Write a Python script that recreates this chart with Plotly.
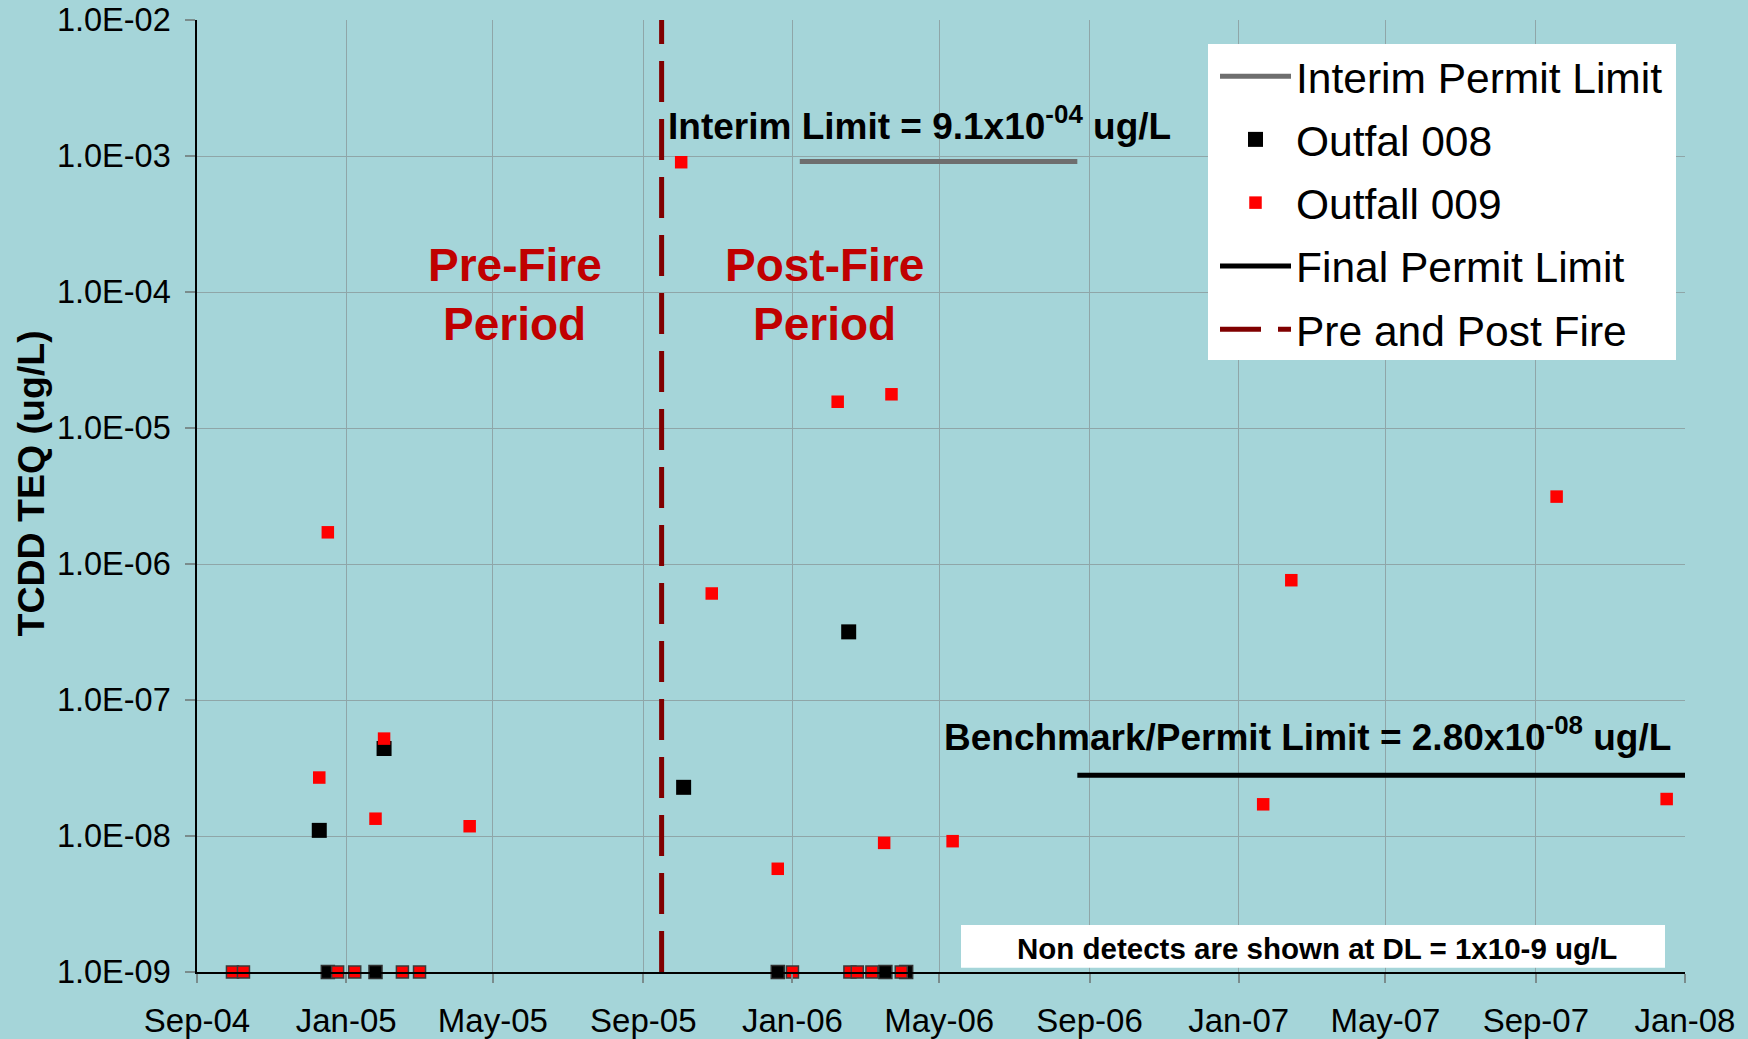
import plotly.graph_objects as go

# ---------------- data ----------------
y_tick_vals = [1e-9, 1e-8, 1e-7, 1e-6, 1e-5, 1e-4, 1e-3, 1e-2]
y_tick_text = ["1.0E-09", "1.0E-08", "1.0E-07", "1.0E-06",
               "1.0E-05", "1.0E-04", "1.0E-03", "1.0E-02"]

# Outfal 008 - detected results
o008_dates = ["2004-12-10", "2005-02-01", "2005-10-04", "2006-02-16"]
o008_vals = [1.10e-8, 4.4e-8, 2.28e-8, 3.17e-7]
# Outfal 008 - non detects (plotted at DL)
o008_nd_dates = ["2004-12-17", "2005-01-25", "2005-12-20", "2006-03-18", "2006-04-04"]
o008_nd_vals = [1e-9, 1e-9, 1e-9, 1e-9, 1e-9]

# Outfall 009 - detected results
o009_dates = ["2004-12-17", "2004-12-10", "2005-02-01", "2005-01-25", "2005-04-12",
              "2005-10-02", "2005-10-27", "2005-12-20", "2006-02-07", "2006-03-23",
              "2006-03-17", "2006-05-12", "2007-01-21", "2007-02-13", "2007-09-18",
              "2007-12-17"]
o009_vals = [1.71e-6, 2.69e-8, 5.2e-8, 1.34e-8, 1.18e-8,
             9.0e-4, 6.07e-7, 5.74e-9, 1.56e-5, 1.77e-5,
             8.9e-9, 9.16e-9, 1.71e-8, 7.6e-7, 3.13e-6,
             1.87e-8]
# Outfall 009 - non detects (plotted at DL)
o009_nd_dates = ["2004-09-30", "2004-10-09", "2004-12-25", "2005-01-08", "2005-02-16",
                 "2005-03-02", "2006-01-01", "2006-02-17", "2006-02-23", "2006-03-07",
                 "2006-03-31"]
o009_nd_vals = [1e-9, 1e-9, 1e-9, 1e-9, 1e-9, 1e-9, 1e-9, 1e-9, 1e-9, 1e-9, 1e-9]

# Permit limits
interim_dates = ["2006-01-07", "2006-08-22"]
interim_vals = [9.1e-4, 9.1e-4]
final_dates = ["2006-08-22", "2008-01-01"]
final_vals = [2.8e-8, 2.8e-8]

# Pre / post fire divider
fire_dates = ["2005-09-16", "2005-09-16"]
fire_vals = [1e-9, 1e-2]

x_range = ["2004-09-01", "2008-01-01"]

# ---------------- layout helpers ----------------
W, H = 1748, 1039
ML, MR, MT, MB = 197, 63, 20, 67
PW = W - ML - MR
PH = H - MT - MB


def px_x(px):
    return (px - ML) / PW


def px_y(py):
    return (H - MB - py) / PH


FONT = "Liberation Sans, Arial, sans-serif"
BG = "#A5D5D9"
GRID = "#8FA6A8"

fig = go.Figure()

fig.add_trace(go.Scatter(
    x=interim_dates, y=interim_vals, mode="lines", name="Interim Permit Limit",
    legendgroup="g1", line=dict(color="#6E6E6E", width=5)))
fig.add_trace(go.Scatter(
    x=o008_dates, y=o008_vals, mode="markers", name="Outfal 008",
    legendgroup="g2", marker=dict(symbol="square", size=15, color="black")))
fig.add_trace(go.Scatter(
    x=o009_dates, y=o009_vals, mode="markers", name="Outfall 009",
    legendgroup="g3", marker=dict(symbol="square", size=12.5, color="#FF0000")))
fig.add_trace(go.Scatter(
    x=final_dates, y=final_vals, mode="lines", name="Final Permit Limit",
    legendgroup="g4", line=dict(color="black", width=5)))
fig.add_trace(go.Scatter(
    x=fire_dates, y=fire_vals, mode="lines", name="Pre and Post Fire",
    legendgroup="g5", line=dict(color="#800000", width=5, dash="41px,17px"),
    cliponaxis=False))
fig.add_trace(go.Scatter(
    x=o008_nd_dates, y=o008_nd_vals, mode="markers", showlegend=False,
    name="Outfal 008 ND", legendgroup="g2", cliponaxis=False,
    marker=dict(symbol="square", size=13, color="black",
                line=dict(color="#303030", width=1.5))))
fig.add_trace(go.Scatter(
    x=o009_nd_dates, y=o009_nd_vals, mode="markers", showlegend=False,
    name="Outfall 009 ND", legendgroup="g3", cliponaxis=False,
    marker=dict(symbol="square", size=12, color="#FF0000",
                line=dict(color="#3A3A3A", width=1.5))))

annotations = [
    dict(text="<b>TCDD TEQ (ug/L)</b>", xref="paper", yref="paper",
         x=px_x(30), y=px_y(483.5), textangle=-90, showarrow=False,
         font=dict(family=FONT, size=37.5, color="black"),
         xanchor="center", yanchor="middle"),
    dict(text="<b>Interim Limit = 9.1x10<sup>-04</sup> ug/L</b>", xref="paper", yref="paper",
         x=px_x(666), y=px_y(124), showarrow=False,
         font=dict(family=FONT, size=37, color="black"),
         xanchor="left", yanchor="middle"),
    dict(text="<b>Benchmark/Permit Limit = 2.80x10<sup>-08</sup> ug/L</b>", xref="paper", yref="paper",
         x=px_x(1673), y=px_y(734), showarrow=False,
         font=dict(family=FONT, size=37, color="black"),
         xanchor="right", yanchor="middle"),
    dict(text="<b>Pre-Fire</b>", xref="paper", yref="paper",
         x=px_x(514.7), y=px_y(265), showarrow=False,
         font=dict(family=FONT, size=46, color="#C00000"),
         xanchor="center", yanchor="middle"),
    dict(text="<b>Period</b>", xref="paper", yref="paper",
         x=px_x(514.2), y=px_y(324), showarrow=False,
         font=dict(family=FONT, size=46, color="#C00000"),
         xanchor="center", yanchor="middle"),
    dict(text="<b>Post-Fire</b>", xref="paper", yref="paper",
         x=px_x(824), y=px_y(265), showarrow=False,
         font=dict(family=FONT, size=46, color="#C00000"),
         xanchor="center", yanchor="middle"),
    dict(text="<b>Period</b>", xref="paper", yref="paper",
         x=px_x(824.2), y=px_y(324), showarrow=False,
         font=dict(family=FONT, size=46, color="#C00000"),
         xanchor="center", yanchor="middle"),
    dict(text="<b>Non detects are shown at DL = 1x10-9 ug/L</b>", xref="paper", yref="paper",
         x=px_x(1316.5), y=px_y(948.5), showarrow=False,
         font=dict(family=FONT, size=29.5, color="black"),
         xanchor="center", yanchor="middle"),
]

shapes = [
    # legend box background
    dict(type="rect", xref="paper", yref="paper",
         x0=px_x(1208), x1=px_x(1676), y0=px_y(360), y1=px_y(44),
         fillcolor="white", line=dict(width=0), layer="above"),
    # non-detect note box
    dict(type="rect", xref="paper", yref="paper",
         x0=px_x(961), x1=px_x(1665), y0=px_y(967.7), y1=px_y(925),
         fillcolor="white", line=dict(width=0), layer="above"),
]

fig.update_layout(
    width=W, height=H,
    margin=dict(l=ML, r=MR, t=MT, b=MB, pad=0, autoexpand=False),
    paper_bgcolor=BG, plot_bgcolor=BG,
    font=dict(family=FONT, color="black"),
    showlegend=True,
    legend=dict(x=px_x(1215), y=px_y(42), xanchor="left", yanchor="top",
                bgcolor="rgba(0,0,0,0)", borderwidth=0,
                font=dict(family=FONT, size=42.5, color="black"),
                itemwidth=71, traceorder="grouped", tracegroupgap=5),
    annotations=annotations,
    shapes=shapes,
    xaxis=dict(type="date", range=x_range, tick0="2004-09-01", dtick="M4",
               tickformat="%b-%y", showgrid=True, gridcolor=GRID, gridwidth=1.3,
               showline=True, linecolor="black", linewidth=1.5,
               ticks="outside", ticklen=9, tickcolor="#7A8C8C", tickwidth=1.5,
               tickfont=dict(family=FONT, size=33, color="black"),
               ticklabelstandoff=10, automargin=False,
               zeroline=False),
    yaxis=dict(type="log", range=[-9, -2], tickvals=y_tick_vals, ticktext=y_tick_text,
               showgrid=True, gridcolor=GRID, gridwidth=1.3,
               showline=True, linecolor="black", linewidth=1.5,
               ticks="outside", ticklen=10, tickcolor="#7A8C8C", tickwidth=1.5,
               tickfont=dict(family=FONT, size=32.5, color="black"),
               ticklabelstandoff=8, automargin=False,
               zeroline=False),
)

fig.write_html("out.html", config={"displayModeBar": False},
               post_script="document.body.style.margin='0';document.body.style.overflow='hidden';")
